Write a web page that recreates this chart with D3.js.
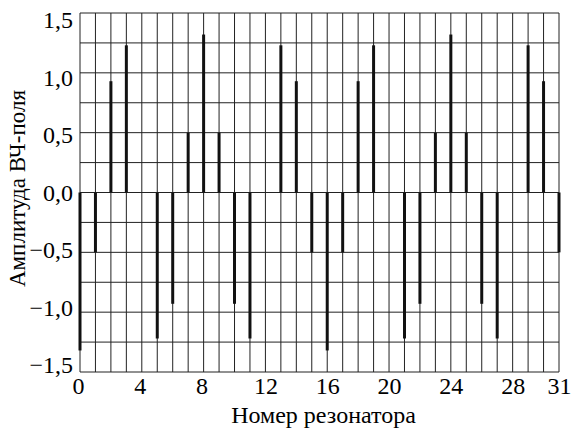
<!DOCTYPE html>
<html>
<head>
<meta charset="utf-8">
<script src="https://cdn.jsdelivr.net/npm/d3@7"></script>
<style>
  body { margin: 0; background: #fff; }
</style>
</head>
<body>
<div id="chart"></div>
<script>
// resonator numbers and field amplitude
var resonators = d3.range(0, 32);
var amplitudes = [-1.32, -0.5, 0.93, 1.23, 0, -1.22, -0.93, 0.5,
                  1.32, 0.5, -0.93, -1.22, 0, 1.23, 0.93, -0.5,
                  -1.32, -0.5, 0.93, 1.23, 0, -1.22, -0.93, 0.5,
                  1.32, 0.5, -0.93, -1.22, 0, 1.23, 0.93, -0.5];
var xTicks = [0, 4, 8, 12, 16, 20, 24, 28, 31];
var yTicks = [-1.5, -1.0, -0.5, 0.0, 0.5, 1.0, 1.5];
var yGrid = d3.range(-1.5, 1.51, 0.25);

var serif = "'Liberation Serif', 'Times New Roman', serif";
var width = 571, height = 430;
var margin = {top: 13, right: 12, bottom: 58, left: 80};
var w = width - margin.left - margin.right;
var h = height - margin.top - margin.bottom;

var svg = d3.select("#chart")
    .append("svg")
    .attr("width", width)
    .attr("height", height)
    .append("g")
    .attr("transform", "translate(" + margin.left + "," + margin.top + ")");

var x = d3.scaleLinear().domain([0, 31]).range([0, w]);
var y = d3.scaleLinear().domain([-1.5, 1.5]).range([h, 0]);

// grid
svg.append("g")
    .selectAll("line")
    .data(resonators)
    .enter()
    .append("line")
    .attr("x1", function(d) { return x(d); })
    .attr("x2", function(d) { return x(d); })
    .attr("y1", 0)
    .attr("y2", h)
    .attr("stroke", "#222")
    .attr("stroke-width", 1);

svg.append("g")
    .selectAll("line")
    .data(yGrid)
    .enter()
    .append("line")
    .attr("x1", 0)
    .attr("x2", w)
    .attr("y1", function(d) { return y(d); })
    .attr("y2", function(d) { return y(d); })
    .attr("stroke", "#222")
    .attr("stroke-width", 1);

// stems from zero to amplitude
svg.append("g")
    .selectAll("line")
    .data(resonators.filter(function(i) { return amplitudes[i] != 0; }))
    .enter()
    .append("line")
    .attr("x1", function(i) { return x(i); })
    .attr("x2", function(i) { return x(i); })
    .attr("y1", y(0))
    .attr("y2", function(i) { return y(amplitudes[i]); })
    .attr("stroke", "#111")
    .attr("stroke-width", 3);

// axes
var xAxis = d3.axisBottom(x).tickValues(xTicks).tickSize(0).tickPadding(5)
    .tickFormat(d3.format("d"));
svg.append("g")
    .attr("transform", "translate(0," + h + ")")
    .call(xAxis)
    .attr("font-family", serif)
    .attr("font-size", 24)
    .call(function(g) { g.select(".domain").remove(); })
    .selectAll("text")
    .attr("x", function(d) { return d < 10 ? -2 : 0; });

var yAxis = d3.axisLeft(y).tickValues(yTicks).tickSize(0).tickPadding(7)
    .tickFormat(function(d) { return d3.format(".1f")(d).replace(".", ",").replace("-", "\u2212"); });
svg.append("g")
    .call(yAxis)
    .attr("font-family", serif)
    .attr("font-size", 24)
    .call(function(g) { g.select(".domain").remove(); })
    .selectAll("text")
    // labels sit slightly inside the outer grid lines
    .attr("y", function(d) { return -(y(d) - y(0)) * 0.04; });

// axis titles
svg.append("text")
    .attr("x", w / 2 + 4)
    .attr("y", h + 51)
    .attr("text-anchor", "middle")
    .attr("font-family", serif)
    .attr("font-size", 24)
    .text("Номер резонатора");

svg.append("text")
    .attr("transform", "rotate(-90)")
    .attr("x", -h / 2 + 4)
    .attr("y", -55)
    .attr("text-anchor", "middle")
    .attr("font-family", serif)
    .attr("font-size", 23)
    .text("Амплитуда ВЧ-поля");
</script>
</body>
</html>
